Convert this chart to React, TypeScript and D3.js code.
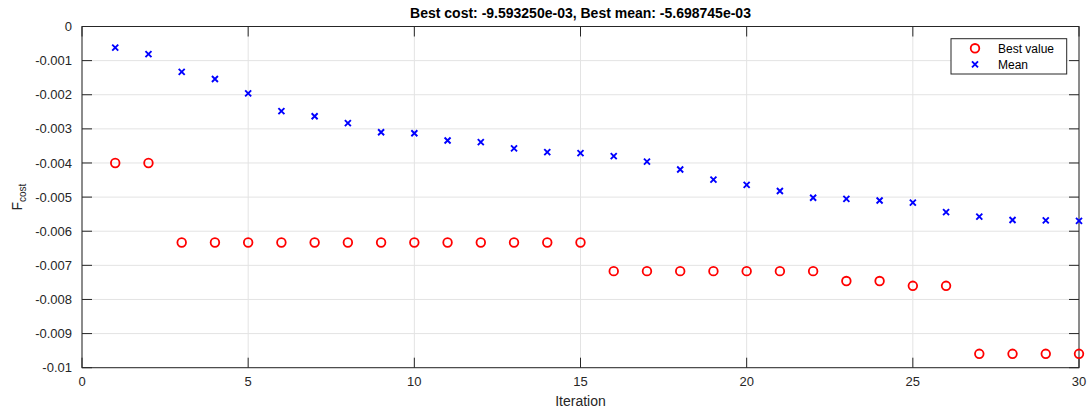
import React from "react";
import * as d3 from "d3";

const iterations = Array.from({ length: 30 }, (_, i) => i + 1);
const bestValues = [
  -0.004, -0.004, -0.00633, -0.00633, -0.00633, -0.00633, -0.00633, -0.00633, -0.00633, -0.00633,
  -0.00633, -0.00633, -0.00633, -0.00633, -0.00633, -0.00717, -0.00717, -0.00717, -0.00717, -0.00717,
  -0.00717, -0.00717, -0.00746, -0.00746, -0.0076, -0.0076, -0.00959325, -0.00959325, -0.00959325, -0.00959325,
];
const meanValues = [
  -0.00062, -0.00081, -0.00133, -0.00154, -0.00196, -0.00248, -0.00263, -0.00283, -0.0031, -0.00313,
  -0.00334, -0.00339, -0.00357, -0.00368, -0.00371, -0.0038, -0.00396, -0.00419, -0.00449, -0.00464,
  -0.00482, -0.00502, -0.00505, -0.0051, -0.00516, -0.00544, -0.00557, -0.00567, -0.00568, -0.0056987,
];
const xTicks = [0, 5, 10, 15, 20, 25, 30];
const yTicks = [0, -0.001, -0.002, -0.003, -0.004, -0.005, -0.006, -0.007, -0.008, -0.009, -0.01];
const yTickLabels = ["0", "-0.001", "-0.002", "-0.003", "-0.004", "-0.005", "-0.006", "-0.007", "-0.008", "-0.009", "-0.01"];
const title = "Best cost: -9.593250e-03, Best mean: -5.698745e-03";
const legendLabels = ["Best value", "Mean"];

const W = 1091, H = 414;
const L = 82, R = 1079, T = 26.5, B = 367.7;
const FONT = "'Liberation Sans', Arial, Helvetica, sans-serif";
const AX = "#262626";

export default function App() {
  const x = d3.scaleLinear().domain([0, 30]).range([L, R]);
  const y = d3.scaleLinear().domain([-0.01, 0]).range([B, T]);
  const tick = 10;
  const cross = (cx: number, cy: number, s: number) =>
    `M${cx - s},${cy - s}L${cx + s},${cy + s}M${cx - s},${cy + s}L${cx + s},${cy - s}`;

  return (
    <svg width={W} height={H} style={{ position: "absolute", left: 0, top: 0, display: "block", background: "#fff" }} fontFamily={FONT}>
      <rect x={0} y={0} width={W} height={H} fill="#fff" />
      {/* grid */}
      {xTicks.map((t) => (
        <line key={"gx" + t} x1={x(t)} x2={x(t)} y1={T} y2={B} stroke="#e3e3e3" strokeWidth={1} />
      ))}
      {yTicks.map((t) => (
        <line key={"gy" + t} x1={L} x2={R} y1={y(t)} y2={y(t)} stroke="#e3e3e3" strokeWidth={1} />
      ))}
      {/* ticks */}
      {xTicks.map((t) => (
        <g key={"tx" + t}>
          <line x1={x(t)} x2={x(t)} y1={B} y2={B - tick} stroke={AX} />
          <line x1={x(t)} x2={x(t)} y1={T} y2={T + tick} stroke={AX} />
          <text x={x(t)} y={386} textAnchor="middle" fontSize={13} fill={AX}>{t}</text>
        </g>
      ))}
      {yTicks.map((t, i) => (
        <g key={"ty" + t}>
          <line x1={L} x2={L + tick} y1={y(t)} y2={y(t)} stroke={AX} />
          <line x1={R} x2={R - tick} y1={y(t)} y2={y(t)} stroke={AX} />
          <text x={72} y={y(t)} dy="0.35em" textAnchor="end" fontSize={13} fill={AX}>{yTickLabels[i]}</text>
        </g>
      ))}
      {/* box */}
      <rect x={L} y={T} width={R - L} height={B - T} fill="none" stroke={AX} strokeWidth={1} />
      {/* data */}
      {iterations.map((it, i) => (
        <circle key={"b" + it} cx={x(it)} cy={y(bestValues[i])} r={4.3} fill="none" stroke="#ff0000" strokeWidth={1.8} />
      ))}
      {iterations.map((it, i) => (
        <path key={"m" + it} d={cross(x(it), y(meanValues[i]), 3)} stroke="#0000ff" strokeWidth={1.9} fill="none" />
      ))}
      {/* title */}
      <text x={(L + R) / 2} y={18} textAnchor="middle" fontSize={14} fontWeight="bold" fill="#000">{title}</text>
      {/* axis labels */}
      <text x={(L + R) / 2} y={406} textAnchor="middle" fontSize={14} fill={AX}>Iteration</text>
      <text transform={`translate(22,${(T + B) / 2}) rotate(-90)`} textAnchor="middle" fontSize={14} fill={AX}>
        F<tspan fontSize={10} dy={4}>cost</tspan>
      </text>
      {/* legend */}
      <rect x={951} y={38.7} width={115.7} height={35.3} fill="#fff" stroke={AX} strokeWidth={1} />
      <circle cx={975} cy={48.3} r={4.3} fill="none" stroke="#ff0000" strokeWidth={1.8} />
      <path d={cross(975, 64.3, 3)} stroke="#0000ff" strokeWidth={1.9} fill="none" />
      <text x={998} y={48.3} dy="0.35em" fontSize={12} fill="#000">{legendLabels[0]}</text>
      <text x={998} y={64.3} dy="0.35em" fontSize={12} fill="#000">{legendLabels[1]}</text>
    </svg>
  );
}
